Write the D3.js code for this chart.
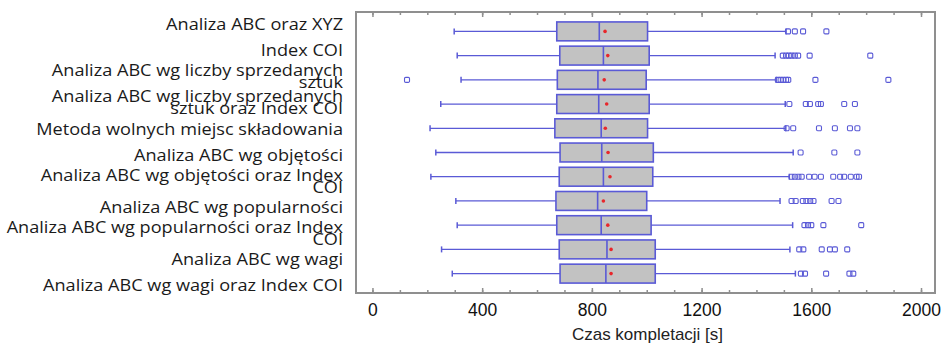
<!DOCTYPE html>
<html>
<head>
<meta charset="utf-8">
<script src="https://cdn.jsdelivr.net/npm/d3@7"></script>
<style>
  html, body { margin: 0; padding: 0; background: #fff; }
  svg { display: block; }
</style>
</head>
<body>
<svg id="chart" width="941" height="347"></svg>
<script>
// Picking-time results per storage-assignment method (seconds)
const categories = [
  "Analiza ABC oraz XYZ",
  "Index COI",
  "Analiza ABC wg liczby sprzedanych sztuk",
  "Analiza ABC wg liczby sprzedanych sztuk oraz Index COI",
  "Metoda wolnych miejsc składowania",
  "Analiza ABC wg objętości",
  "Analiza ABC wg objętości oraz Index COI",
  "Analiza ABC wg popularności",
  "Analiza ABC wg popularności oraz Index COI",
  "Analiza ABC wg wagi",
  "Analiza ABC wg wagi oraz Index COI"
];

// Wrapped category labels, one entry per line
const labelLines = [
  ["Analiza ABC oraz XYZ"],
  ["Index COI"],
  ["Analiza ABC wg liczby sprzedanych", "sztuk"],
  ["Analiza ABC wg liczby sprzedanych", "sztuk oraz Index COI"],
  ["Metoda wolnych miejsc składowania"],
  ["Analiza ABC wg objętości"],
  ["Analiza ABC wg objętości oraz Index", "COI"],
  ["Analiza ABC wg popularności"],
  ["Analiza ABC wg popularności oraz Index", "COI"],
  ["Analiza ABC wg wagi"],
  ["Analiza ABC wg wagi oraz Index COI"]
];

const whiskerLow  = [298, 309, 323, 249, 210, 231, 213, 304, 309, 252, 291];
const q1          = [672, 683, 674, 672, 665, 684, 681, 669, 672, 681, 684];
const median      = [827, 842, 822, 825, 834, 836, 842, 821, 834, 855, 851];
const mean        = [848, 858, 845, 854, 849, 859, 866, 842, 858, 870, 870];
const q3          = [1003, 1009, 998, 1009, 1003, 1024, 1022, 1000, 1016, 1031, 1031];
const whiskerHigh = [1508, 1468, 1472, 1505, 1507, 1534, 1520, 1486, 1532, 1522, 1542];

const outliers = [
  [1515, 1540, 1570, 1655],
  [1496, 1508, 1518, 1528, 1540, 1552, 1594, 1815],
  [126, 1478, 1488, 1498, 1508, 1516, 1615, 1881],
  [1520, 1580, 1595, 1625, 1635, 1720, 1759],
  [1510, 1534, 1628, 1686, 1741, 1768],
  [1561, 1684, 1768],
  [1528, 1540, 1553, 1565, 1592, 1612, 1635, 1680, 1705, 1720, 1744, 1765, 1774],
  [1528, 1543, 1569, 1582, 1596, 1608, 1674, 1699],
  [1575, 1588, 1600, 1644, 1782],
  [1556, 1571, 1638, 1668, 1686, 1731],
  [1562, 1577, 1654, 1739, 1753]
];

const majorTicks = [0, 400, 800, 1200, 1600, 2000];
const minorTicks = d3.range(0, 2001, 100);
const xTitle = "Czas kompletacji [s]";

// ---- layout ----
const plot = { left: 356, right: 935, top: 12, bottom: 293 };
const blue = "#5a5ad6";
const frameColor = "#8f8f8f";

const svg = d3.select("#chart");

const x = d3.scaleLinear().domain([-60, 2051]).range([plot.left, plot.right]);
const y = d3.scalePoint().domain(categories).range([plot.top, plot.bottom]).padding(0.8);
const labelY = d3.scaleLinear().domain([0, categories.length - 1]).range([24.5, 286]);
const boxH = y.step() * 0.78;

const rows = categories.map((c, i) => ({
  cat: c, i,
  lo: whiskerLow[i], q1: q1[i], med: median[i], mean: mean[i], q3: q3[i], hi: whiskerHigh[i],
  out: outliers[i]
}));

// plot frame
svg.append("rect")
  .attr("x", plot.left).attr("y", plot.top)
  .attr("width", plot.right - plot.left).attr("height", plot.bottom - plot.top)
  .attr("fill", "none").attr("stroke", frameColor).attr("stroke-width", 2);

// inward ticks on bottom and top edges
function tickAxis(axisFn, yPos, values, size) {
  const g = svg.append("g")
    .attr("transform", `translate(0,${yPos})`)
    .call(axisFn(x).tickValues(values).tickSize(size).tickFormat(""));
  g.select(".domain").remove();
  g.selectAll(".tick line").attr("stroke", frameColor).attr("stroke-width", 1.5);
  return g;
}
tickAxis(d3.axisBottom, plot.bottom, minorTicks, -3);
tickAxis(d3.axisTop, plot.top, minorTicks, -3);
tickAxis(d3.axisTop, plot.top, majorTicks, -5);

const xAxis = svg.append("g")
  .attr("transform", `translate(0,${plot.bottom})`)
  .call(d3.axisBottom(x).tickValues(majorTicks).tickSize(-5).tickPadding(11).tickFormat(d3.format("d")));
xAxis.select(".domain").remove();
xAxis.selectAll(".tick line").attr("stroke", frameColor).attr("stroke-width", 1.5);
xAxis.selectAll(".tick text")
  .attr("fill", "#111")
  .style("font-family", "'Liberation Sans', Arial, sans-serif")
  .style("font-size", "17.5px");

svg.append("text")
  .attr("x", (plot.left + plot.right) / 2 + 2)
  .attr("y", 340)
  .attr("text-anchor", "middle")
  .attr("fill", "#222")
  .style("font-family", "'Liberation Sans', Arial, sans-serif")
  .style("font-size", "17px")
  .text(xTitle);

// category labels (set in a slightly widened face)
const labels = svg.append("g")
  .attr("transform", "translate(343,0) scale(1.17,1)")
  .style("font-family", "'Open Sans', sans-serif")
  .style("font-size", "15.5px")
  .attr("fill", "#1a1a1a");
rows.forEach(r => {
  const lines = labelLines[r.i];
  const gap = 12;
  lines.forEach((t, k) => {
    labels.append("text")
      .attr("x", 0)
      .attr("y", labelY(r.i) + (k - (lines.length - 1) / 2) * gap)
      .attr("dy", "0.35em")
      .attr("text-anchor", "end")
      .text(t);
  });
});

// box plots
const g = svg.append("g");
const rowG = g.selectAll("g.row").data(rows).join("g").attr("class", "row")
  .attr("transform", d => `translate(0,${y(d.cat)})`);

// whiskers
rowG.append("line")
  .attr("x1", d => x(d.lo)).attr("x2", d => x(d.q1))
  .attr("stroke", blue).attr("stroke-width", 1.3);
rowG.append("line")
  .attr("x1", d => x(d.q3)).attr("x2", d => x(d.hi))
  .attr("stroke", blue).attr("stroke-width", 1.3);
rowG.append("line")
  .attr("x1", d => x(d.lo)).attr("x2", d => x(d.lo))
  .attr("y1", -3).attr("y2", 3)
  .attr("stroke", blue).attr("stroke-width", 1.5);
rowG.append("line")
  .attr("x1", d => x(d.hi)).attr("x2", d => x(d.hi))
  .attr("y1", -3).attr("y2", 3)
  .attr("stroke", blue).attr("stroke-width", 1.5);

// boxes
rowG.append("rect")
  .attr("x", d => x(d.q1)).attr("y", -boxH / 2)
  .attr("width", d => x(d.q3) - x(d.q1)).attr("height", boxH)
  .attr("fill", "#c2c2c2").attr("stroke", blue).attr("stroke-width", 1.6);
rowG.append("line")
  .attr("x1", d => x(d.med)).attr("x2", d => x(d.med))
  .attr("y1", -boxH / 2).attr("y2", boxH / 2)
  .attr("stroke", blue).attr("stroke-width", 1.6);

// means
rowG.append("circle")
  .attr("cx", d => x(d.mean)).attr("cy", 0).attr("r", 1.8)
  .attr("fill", "#e8262b");

// outliers
rowG.selectAll("rect.out").data(d => d.out).join("rect").attr("class", "out")
  .attr("x", v => x(v) - 2.5).attr("y", -2.5)
  .attr("width", 5).attr("height", 5).attr("rx", 1.2)
  .attr("fill", "none").attr("stroke", blue).attr("stroke-width", 1.1);
</script>
</body>
</html>
